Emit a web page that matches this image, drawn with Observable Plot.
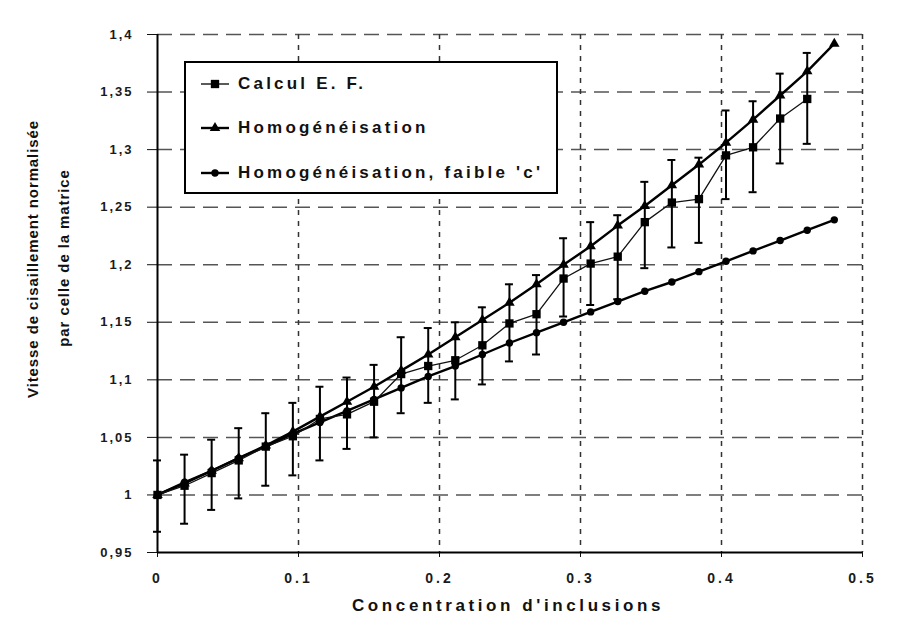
<!DOCTYPE html>
<html>
<head>
<meta charset="utf-8">
<script src="https://cdn.jsdelivr.net/npm/d3@7"></script>
<script src="https://cdn.jsdelivr.net/npm/@observablehq/plot@0.6"></script>
<style>
  body { margin: 0; background: #fff; }
  #wrap { position: relative; width: 903px; height: 619px; font-family: "Liberation Sans", Arial, sans-serif; color: #111; overflow: hidden; }
  #wrap svg text { font-weight: bold; fill: #1a1a1a; }
  .ytitle { position: absolute; white-space: nowrap; font-size: 15px; font-weight: bold; transform: translate(-50%, -50%) rotate(-90deg); letter-spacing: 0.9px; }
  .xtitle { position: absolute; white-space: nowrap; font-size: 17px; font-weight: bold; transform: translate(-50%, -50%); letter-spacing: 3.6px; }
  #legend { position: absolute; left: 184px; top: 61px; width: 370px; height: 129px; border: 2px solid #000; background: #fff; }
  .entry { position: absolute; left: 14px; height: 30px; display: flex; align-items: center; font-size: 17px; font-weight: bold; letter-spacing: 3.2px; white-space: nowrap; }
  .entry svg { margin-right: 8px; }
</style>
</head>
<body>
<div id="wrap"></div>
<script>
// ---- data ----
const seriesNames = ["Calcul E. F.", "Homogénéisation", "Homogénéisation, faible 'c'"];
const concentrations = [0, 0.0192, 0.0384, 0.0576, 0.0768, 0.096, 0.1152, 0.1344, 0.1536, 0.1728, 0.192, 0.2112, 0.2304,
  0.2496, 0.2688, 0.288, 0.3072, 0.3264, 0.3456, 0.3648, 0.384, 0.4032, 0.4224, 0.4416, 0.4608, 0.48];
const efValues = [1.000, 1.008, 1.019, 1.030, 1.042, 1.051, 1.066, 1.070, 1.081, 1.105, 1.112, 1.117, 1.130,
  1.149, 1.157, 1.188, 1.201, 1.207, 1.237, 1.254, 1.257, 1.295, 1.302, 1.327, 1.344];
const efLow = [0.968, 0.975, 0.987, 0.997, 1.008, 1.017, 1.030, 1.040, 1.050, 1.071, 1.080, 1.083, 1.096,
  1.116, 1.122, 1.155, 1.165, 1.170, 1.197, 1.215, 1.219, 1.257, 1.263, 1.288, 1.305];
const efHigh = [1.030, 1.035, 1.048, 1.058, 1.071, 1.080, 1.094, 1.102, 1.113, 1.137, 1.145, 1.150, 1.163,
  1.183, 1.191, 1.223, 1.237, 1.243, 1.272, 1.291, 1.293, 1.334, 1.342, 1.366, 1.384];
const homValues = [1.000, 1.010, 1.021, 1.032, 1.043, 1.055, 1.068, 1.081, 1.094, 1.108, 1.122, 1.137, 1.152,
  1.167, 1.183, 1.200, 1.216, 1.234, 1.251, 1.269, 1.287, 1.306, 1.326, 1.347, 1.368, 1.392];
const faibleValues = [1.000, 1.011, 1.021, 1.032, 1.042, 1.053, 1.063, 1.073, 1.083, 1.093, 1.103, 1.112, 1.122,
  1.132, 1.141, 1.150, 1.159, 1.168, 1.177, 1.185, 1.194, 1.203, 1.212, 1.221, 1.230, 1.239];
const xTicks = [0, 0.1, 0.2, 0.3, 0.4, 0.5];
const yTicks = [0.95, 1, 1.05, 1.1, 1.15, 1.2, 1.25, 1.3, 1.35, 1.4];
const xTitle = "Concentration d'inclusions";
const yTitle = ["Vitesse de cisaillement normalisée", "par celle de la matrice"];

// ---- tables ----
const ef = efValues.map((v, i) => ({x: concentrations[i], y: v, lo: efLow[i], hi: efHigh[i]}));
const hom = homValues.map((v, i) => ({x: concentrations[i], y: v}));
const faible = faibleValues.map((v, i) => ({x: concentrations[i], y: v}));

const chart = Plot.plot({
  width: 903,
  height: 619,
  marginLeft: 157,
  marginRight: 41,
  marginTop: 34,
  marginBottom: 67,
  style: {background: "#fff", fontFamily: "Liberation Sans, Arial, sans-serif", fontSize: "13px", color: "#111", overflow: "visible"},
  x: {domain: [0, 0.5], ticks: xTicks, tickFormat: d => d === 0 ? "0" : d.toFixed(1), tickSize: 5, tickPadding: 16, label: null},
  y: {domain: [0.95, 1.4], ticks: yTicks, tickFormat: d => String(d).replace(".", ","), tickSize: 10, tickPadding: 14, label: null},
  marks: [
    Plot.ruleY(yTicks.filter(t => t > 0.95), {stroke: "#555", strokeWidth: 1.5, strokeDasharray: "15,8"}),
    Plot.ruleX(xTicks.filter(t => t > 0), {stroke: "#333", strokeWidth: 1.5, strokeDasharray: "5,6"}),
    Plot.ruleX([0], {stroke: "#000", strokeWidth: 2}),
    Plot.ruleY([0.95], {stroke: "#000", strokeWidth: 2}),
    Plot.ruleX(ef, {x: "x", y1: "lo", y2: "hi", stroke: "#000", strokeWidth: 2}),
    Plot.ruleY(ef, {y: "lo", x1: "x", x2: "x", insetLeft: -4, insetRight: -4, stroke: "#000", strokeWidth: 2}),
    Plot.ruleY(ef, {y: "hi", x1: "x", x2: "x", insetLeft: -4, insetRight: -4, stroke: "#000", strokeWidth: 2}),
    Plot.line(faible, {x: "x", y: "y", stroke: "#000", strokeWidth: 2.4}),
    Plot.line(hom, {x: "x", y: "y", stroke: "#000", strokeWidth: 2.4}),
    Plot.line(ef, {x: "x", y: "y", stroke: "#111", strokeWidth: 1.3}),
    Plot.dot(faible, {x: "x", y: "y", symbol: "circle", r: 3.7, fill: "#000", stroke: "none"}),
    Plot.dot(hom, {x: "x", y: "y", symbol: "triangle", r: 3.9, fill: "#000", stroke: "none"}),
    Plot.dot(ef, {x: "x", y: "y", symbol: "square", r: 4.7, fill: "#000", stroke: "none"})
  ]
});

const wrap = document.getElementById("wrap");
wrap.appendChild(chart);

// tick label letter spacing (y narrower, x wider)
d3.select(chart).selectAll("g[aria-label^='y-axis'] text").style("letter-spacing", "2px");
d3.select(chart).selectAll("g[aria-label^='x-axis'] text").style("letter-spacing", "3px").style("font-size", "14px");

// axis titles
const yt1 = document.createElement("div");
yt1.className = "ytitle"; yt1.textContent = yTitle[0];
yt1.style.left = "32px"; yt1.style.top = "259px";
wrap.appendChild(yt1);
const yt2 = document.createElement("div");
yt2.className = "ytitle"; yt2.textContent = yTitle[1];
yt2.style.left = "63px"; yt2.style.top = "258px";
wrap.appendChild(yt2);
const xt = document.createElement("div");
xt.className = "xtitle"; xt.textContent = xTitle;
xt.style.left = "508px"; xt.style.top = "606px";
wrap.appendChild(xt);

// legend
const legend = document.createElement("div");
legend.id = "legend";
const rowCenters = [21, 65, 110];
const symbols = ["square", "triangle", "circle"];
const lineW = [1.3, 2.4, 2.4];
seriesNames.forEach((name, i) => {
  const row = document.createElement("div");
  row.className = "entry";
  row.style.top = (rowCenters[i] - 15) + "px";
  const ns = "http://www.w3.org/2000/svg";
  const s = document.createElementNS(ns, "svg");
  s.setAttribute("width", 30); s.setAttribute("height", 14);
  const ln = document.createElementNS(ns, "line");
  ln.setAttribute("x1", 1); ln.setAttribute("x2", 29); ln.setAttribute("y1", 7); ln.setAttribute("y2", 7);
  ln.setAttribute("stroke", "#000"); ln.setAttribute("stroke-width", lineW[i]);
  s.appendChild(ln);
  const sym = {square: d3.symbolSquare, triangle: d3.symbolTriangle, circle: d3.symbolCircle}[symbols[i]];
  const size = {square: Math.PI * 4.7 * 4.7, triangle: Math.PI * 3.9 * 3.9, circle: Math.PI * 3.7 * 3.7}[symbols[i]];
  const p = document.createElementNS(ns, "path");
  p.setAttribute("d", d3.symbol(sym, size)());
  p.setAttribute("transform", "translate(15,7)");
  p.setAttribute("fill", "#000");
  s.appendChild(p);
  row.appendChild(s);
  const t = document.createElement("span");
  t.textContent = name;
  row.appendChild(t);
  legend.appendChild(row);
});
wrap.appendChild(legend);
</script>
</body>
</html>
